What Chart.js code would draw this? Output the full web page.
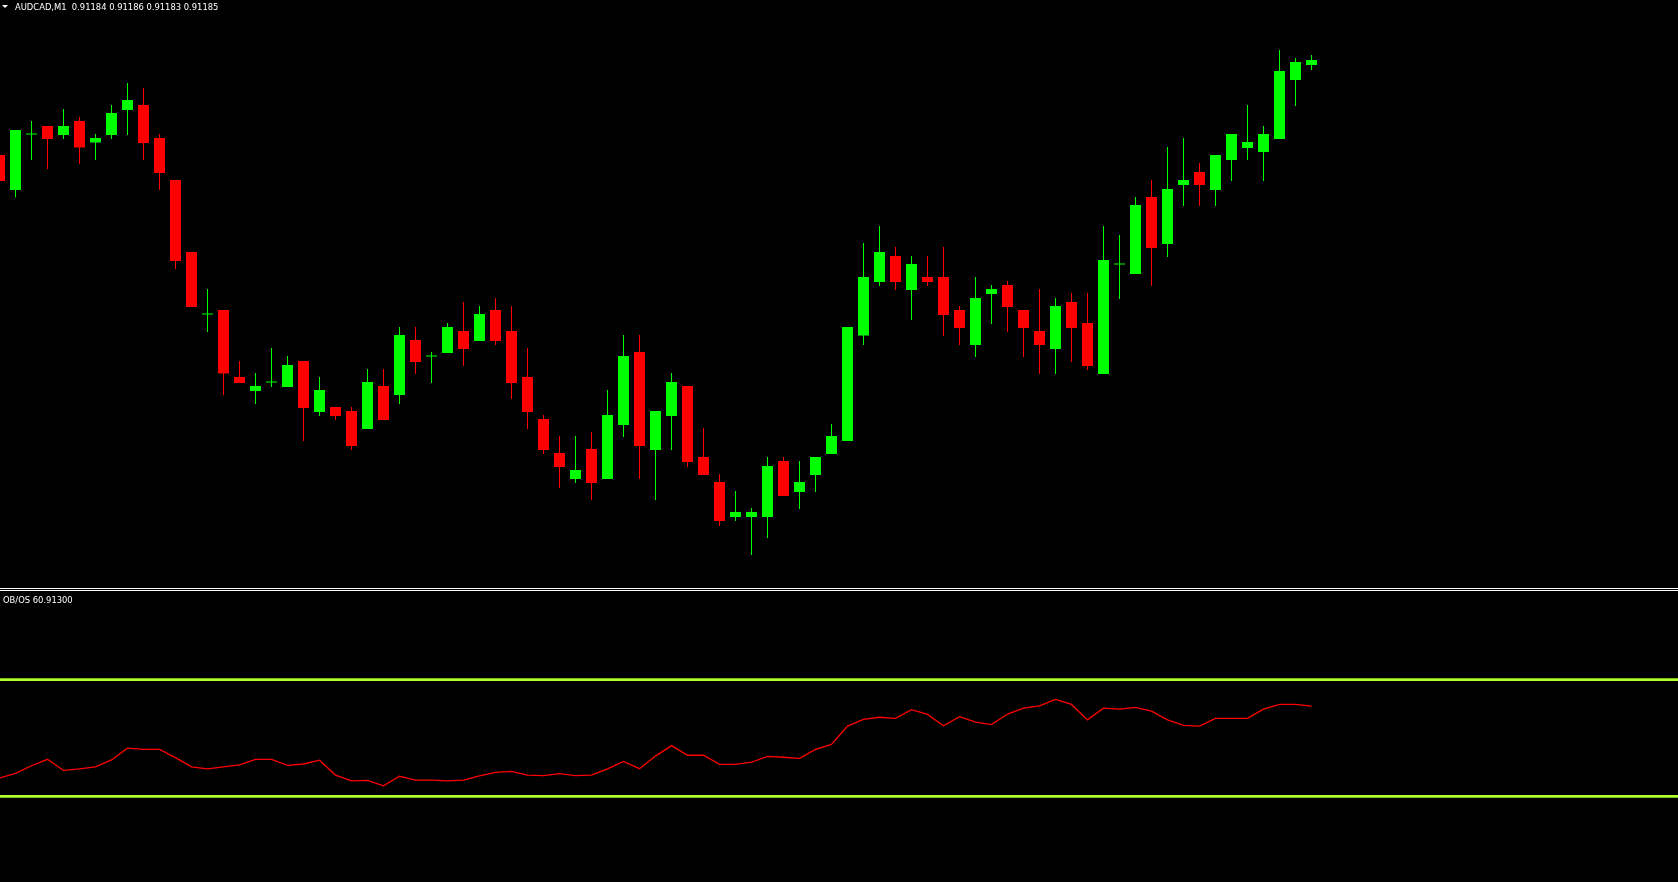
<!DOCTYPE html>
<html>
<head>
<meta charset="utf-8">
<title>AUDCAD,M1</title>
<script src="https://cdn.jsdelivr.net/npm/chart.js@4.4.0/dist/chart.umd.min.js"></script>
<style>
    html, body { margin: 0; padding: 0; background: #000; width: 1678px; height: 882px; overflow: hidden; }
    #main { position: absolute; left: 0; top: 0; }
    #sep { position: absolute; left: 0; top: 588px; width: 1678px; height: 1px; border-top: 1px solid #fff; border-bottom: 1px solid #fff; }
    #sub { position: absolute; left: 0; top: 592px; }
    .lbl { position: absolute; color: #fff; font-family: "DejaVu Sans", sans-serif; font-size: 8.4px; line-height: 1; white-space: pre; }
    #tri { position: absolute; left: 2px; top: 5px; width: 0; height: 0; border-left: 3px solid transparent; border-right: 3px solid transparent; border-top: 3px solid #fff; }
</style>
</head>
<body>
<canvas id="main" width="1678" height="588"></canvas>
<div id="sep"></div>
<canvas id="sub" width="1678" height="292"></canvas>
<div id="tri"></div>
<div class="lbl" id="header" style="left: 15px; top: 3px;"></div>
<div class="lbl" id="obosLabel" style="left: 3px; top: 596px;"></div>
<script>
const symbol = 'AUDCAD'
const timeframe = 'M1'
const indicatorName = 'OB/OS'

// one candle per minute, oldest first
const opens = [
    0.911660, 0.911590, 0.911701, 0.911718, 0.911700, 0.911728, 0.911685, 0.911700, 0.911750, 0.911760,
    0.911694, 0.911610, 0.911466, 0.911341, 0.911350, 0.911216, 0.911188, 0.911205, 0.911196, 0.911248,
    0.911146, 0.911156, 0.911148, 0.911112, 0.911198, 0.911180, 0.911290, 0.911257, 0.911264, 0.911308,
    0.911288, 0.911350, 0.911308, 0.911216, 0.911132, 0.911064, 0.911012, 0.911072, 0.911012, 0.911120,
    0.911266, 0.911070, 0.911138, 0.911198, 0.911056, 0.911006, 0.910936, 0.910936, 0.910936, 0.911048,
    0.910986, 0.911020, 0.911062, 0.911088, 0.911299, 0.911406, 0.911458, 0.911390, 0.911416, 0.911416,
    0.911350, 0.911280, 0.911382, 0.911400, 0.911350, 0.911308, 0.911272, 0.911366, 0.911324, 0.911222,
    0.911441, 0.911422, 0.911576, 0.911482, 0.911600, 0.911626, 0.911590, 0.911650, 0.911674, 0.911666,
    0.911692, 0.911810, 0.91184
]
const highs = [
    0.911670, 0.911710, 0.911728, 0.911718, 0.911752, 0.911736, 0.911702, 0.911760, 0.911804, 0.911794,
    0.911702, 0.911610, 0.911466, 0.911392, 0.911350, 0.911248, 0.911224, 0.911274, 0.911258, 0.911248,
    0.911216, 0.911156, 0.911156, 0.911232, 0.911232, 0.911316, 0.911316, 0.911266, 0.911324, 0.911366,
    0.911358, 0.911374, 0.911358, 0.911274, 0.911140, 0.911098, 0.911098, 0.911106, 0.911190, 0.911300,
    0.911300, 0.911148, 0.911224, 0.911198, 0.911114, 0.911022, 0.910988, 0.910954, 0.911056, 0.911056,
    0.911048, 0.911056, 0.911122, 0.911316, 0.911484, 0.911518, 0.911476, 0.911458, 0.911458, 0.911476,
    0.911358, 0.911416, 0.911400, 0.911408, 0.911350, 0.911392, 0.911374, 0.911384, 0.911384, 0.911518,
    0.911500, 0.911576, 0.911610, 0.911676, 0.911694, 0.911644, 0.911660, 0.911702, 0.911760, 0.911718,
    0.911870, 0.911854, 0.91186
]
const lows = [
    0.911598, 0.911575, 0.911650, 0.911632, 0.911692, 0.911642, 0.911650, 0.911692, 0.911700, 0.911650,
    0.911590, 0.911432, 0.911356, 0.911306, 0.911180, 0.911204, 0.911162, 0.911196, 0.911196, 0.911088,
    0.911138, 0.911130, 0.911070, 0.911112, 0.911130, 0.911162, 0.911222, 0.911204, 0.911264, 0.911238,
    0.911288, 0.911280, 0.911172, 0.911112, 0.911062, 0.910994, 0.911004, 0.910970, 0.911012, 0.911096,
    0.911012, 0.910970, 0.911070, 0.911036, 0.911020, 0.910918, 0.910928, 0.910860, 0.910894, 0.910978,
    0.910952, 0.910986, 0.911062, 0.911088, 0.911280, 0.911398, 0.911390, 0.911330, 0.911398, 0.911298,
    0.911280, 0.911256, 0.911322, 0.911306, 0.911256, 0.911222, 0.911222, 0.911246, 0.911230, 0.911222,
    0.911372, 0.911422, 0.911398, 0.911456, 0.911558, 0.911558, 0.911558, 0.911608, 0.911650, 0.911608,
    0.911692, 0.911758, 0.91183
]
const closes = [
    0.911608, 0.911710, 0.911701, 0.911692, 0.911718, 0.911675, 0.911694, 0.911744, 0.911770, 0.911684,
    0.911624, 0.911448, 0.911356, 0.911341, 0.911223, 0.911204, 0.911198, 0.911205, 0.911240, 0.911154,
    0.911190, 0.911138, 0.911078, 0.911206, 0.911130, 0.911300, 0.911246, 0.911257, 0.911316, 0.911272,
    0.911342, 0.911288, 0.911204, 0.911146, 0.911070, 0.911036, 0.911030, 0.911004, 0.911140, 0.911258,
    0.911078, 0.911148, 0.911206, 0.911046, 0.911020, 0.910928, 0.910946, 0.910946, 0.911038, 0.910978,
    0.911006, 0.911056, 0.911098, 0.911316, 0.911416, 0.911466, 0.911406, 0.911442, 0.911406, 0.911340,
    0.911314, 0.911374, 0.911392, 0.911356, 0.911314, 0.911280, 0.911358, 0.911314, 0.911238, 0.911450,
    0.911441, 0.911560, 0.911474, 0.911592, 0.911610, 0.911600, 0.911660, 0.911702, 0.911686, 0.911702,
    0.911828, 0.911846, 0.91185
]
// OB/OS oscillator, one value per candle
const obos = [
    36.3, 37.9, 40.5, 42.7, 38.9, 39.4, 40.1, 42.5, 46.5, 46.1,
    46.1, 43.3, 40.1, 39.4, 40.1, 40.8, 42.7, 42.7, 40.6, 41.1,
    42.4, 37.3, 35.3, 35.5, 33.6, 36.9, 35.6, 35.6, 35.3, 35.6,
    37.0, 38.2, 38.6, 37.3, 37.1, 37.8, 37.1, 37.3, 39.4, 42.0,
    39.5, 43.8, 47.4, 44.1, 44.1, 41.0, 41.0, 41.7, 43.7, 43.4,
    43.0, 46.1, 47.8, 54.1, 56.4, 57.1, 56.7, 59.7, 58.1, 54.2,
    57.3, 55.4, 54.6, 58.2, 60.2, 61.0, 63.2, 61.5, 56.2, 60.2,
    59.9, 60.5, 59.2, 56.2, 54.3, 54.1, 56.7, 56.7, 56.7, 59.9,
    61.5, 61.5, 60.913
]
const levels = [70, 30]

window.addEventListener('load', () => {
    const bull = '#00ff00'
    const bear = '#ff0000'
    const last = closes.length - 1

    // 16px per bar, first bar half off the left edge
    const xMin = 0.03125
    const xMax = xMin + 1678 / 16

    const isUp = closes.map((c, i) => c >= opens[i])
    const colors = isUp.map(up => up ? bull : bear)

    const hideAxis = { display: false }
    const noPlugins = { legend: { display: false }, tooltip: { enabled: false } }

    new Chart(document.getElementById('main'), {
        type: 'bar',
        data: {
            datasets: [
                {
                    label: 'body',
                    data: opens.map((o, i) => ({ x: i, y: [o, closes[i]] })),
                    backgroundColor: colors,
                    barThickness: 11,
                    minBarLength: 1,
                    grouped: false,
                    borderWidth: 0,
                    inflateAmount: 0
                },
                {
                    label: 'wick',
                    data: lows.map((l, i) => ({ x: i, y: [l, highs[i]] })),
                    backgroundColor: colors,
                    barThickness: 1,
                    grouped: false,
                    borderWidth: 0,
                    inflateAmount: 0
                }
            ]
        },
        options: {
            responsive: false,
            animation: false,
            events: [],
            layout: { padding: 0 },
            plugins: noPlugins,
            scales: {
                x: { ...hideAxis, type: 'linear', min: xMin, max: xMax, offset: false },
                y: { ...hideAxis, min: 0.910794, max: 0.911970 }
            }
        }
    })

    const levelSets = levels.map(lv => ({
        label: 'level ' + lv,
        data: [{ x: xMin, y: lv }, { x: xMax, y: lv }],
        borderColor: '#adff2f',
        borderWidth: 2.6,
        pointRadius: 0
    }))

    new Chart(document.getElementById('sub'), {
        type: 'line',
        data: {
            datasets: [
                {
                    label: indicatorName,
                    data: obos.map((v, i) => ({ x: i, y: v })),
                    borderColor: '#ff0000',
                    borderWidth: 1.3,
                    pointRadius: 0,
                    tension: 0
                },
                ...levelSets
            ]
        },
        options: {
            responsive: false,
            animation: false,
            events: [],
            layout: { padding: 0 },
            plugins: noPlugins,
            scales: {
                x: { ...hideAxis, type: 'linear', min: xMin, max: xMax },
                y: { ...hideAxis, min: 0, max: 100 }
            }
        }
    })

    const f = v => v.toFixed(5)
    document.getElementById('header').textContent =
        `${symbol},${timeframe}  ${f(opens[last])} ${f(highs[last])} ${f(lows[last])} ${f(closes[last])}`
    document.getElementById('obosLabel').textContent = `${indicatorName} ${f(obos[last])}`
})
</script>
</body>
</html>
